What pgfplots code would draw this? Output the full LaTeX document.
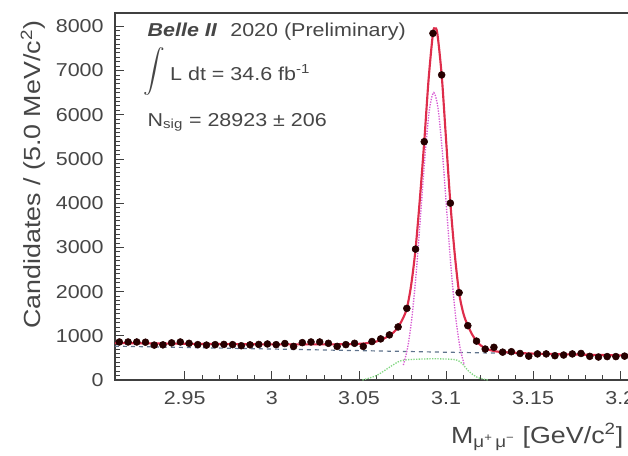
\documentclass[border=0pt]{standalone}
\usepackage{fontspec}
\setmainfont[FakeStretch=1.15]{Liberation Sans}
\usepackage{graphicx}
\usepackage{pgfplots}
\pgfplotsset{compat=1.18}
\definecolor{fitred}{RGB}{222,45,75}
\definecolor{sigmag}{RGB}{215,90,210}
\definecolor{bgblue}{RGB}{95,115,140}
\definecolor{sigtwo}{RGB}{130,215,130}
\definecolor{txt}{RGB}{70,70,70}
\pgfplotstableread{
x y
2.9125 860
2.9175 860
2.9225 860
2.9275 855
2.9325 790
2.9375 795
2.9425 840
2.9475 860
2.9525 830
2.9575 800
2.9625 790
2.9675 800
2.9725 805
2.9775 800
2.9825 775
2.9875 795
2.9925 805
2.9975 815
3.0025 800
3.0075 825
3.0125 760
3.0175 845
3.0225 860
3.0275 860
3.0325 830
3.0375 760
3.0425 800
3.0475 830
3.0525 760
3.0575 870
3.0625 930
3.0675 1020
3.0725 1200
3.0775 1620
3.0825 2960
3.0875 5390
3.0925 7840
3.0975 6900
3.1025 4000
3.1075 1975
3.1125 1230
3.1175 880
3.1225 700
3.1275 740
3.1325 630
3.1375 640
3.1425 600
3.1475 540
3.1525 590
3.1575 590
3.1625 550
3.1675 565
3.1725 590
3.1775 600
3.1825 535
3.1875 520
3.1925 530
3.1975 530
3.2025 540
3.2075 530
}\datatable
\pgfplotstableread{
x y
2.910 835
2.930 828
2.950 820
2.970 813
2.990 808
3.010 805
3.030 805
3.040 808
3.050 818
3.055 835
3.060 870
3.065 950
3.070 1080
3.0725 1200
3.075 1370
3.0775 1620
3.080 2150
3.0825 2960
3.085 4100
3.0875 5390
3.090 6800
3.0925 7840
3.0937 7950
3.095 7840
3.0975 6900
3.100 5450
3.1025 4000
3.105 2850
3.1075 1975
3.110 1500
3.1125 1230
3.115 1030
3.1175 880
3.120 780
3.1225 720
3.125 680
3.130 640
3.140 615
3.150 597
3.160 588
3.180 572
3.210 550
}\fittable
\pgfplotstableread{
x y
3.0755 338
3.078 741
3.0805 1439
3.083 2477
3.0855 3777
3.088 5106
3.0905 6120
3.093 6500
3.0955 6120
3.098 5106
3.1005 3777
3.103 2477
3.1055 1439
3.108 741
3.1105 338
}\coretable
\pgfplotstableread{
x y
3.052 0
3.060 100
3.068 300
3.073 420
3.078 460
3.093 480
3.105 460
3.109 380
3.113 200
3.118 60
3.124 0
}\widetable
\pgfplotstableread{
x y
2.91 765
3.21 550
}\bkgtable
\begin{document}
\begin{tikzpicture}
\path[use as bounding box] (0,0) rectangle (471pt,341.25pt);
\begin{axis}[
  at={(86.25pt,56.25pt)}, anchor=south west,
  scale only axis, width=392pt, height=275.25pt,
  xmin=2.91, xmax=3.21, ymin=0, ymax=8300,
  clip=false,
  axis line style={black!75, line width=0.8pt},
  xtick={2.95,3,3.05,3.1,3.15,3.2},
  xticklabels={2.95,3,3.05,3.1,3.15,3.2},
  ytick={0,1000,2000,3000,4000,5000,6000,7000,8000},
  yticklabels={0,1000,2000,3000,4000,5000,6000,7000,8000},
  minor x tick num=4, minor y tick num=9,
  tick align=inside, xtick pos=bottom, ytick pos=left,
  major tick length=7pt, minor tick length=3.5pt,
  tick style={black!75, line width=0.6pt},
  ticklabel style={font=\fontsize{14}{14}\selectfont, text=txt},
  xticklabel style={yshift=-5pt},
  yticklabel style={xshift=-5pt},
  xlabel={M\textsubscript{μ\textsuperscript{+}\,μ\textsuperscript{−}} [GeV/c\textsuperscript{2}]},
  xlabel style={at={(rel axis cs:0.9814,-0.1717)}, anchor=base east, font=\fontsize{17.5}{17.5}\selectfont, text=txt},
  ylabel={Candidates / (5.0 MeV/c\textsuperscript{2})},
  ylabel style={at={(rel axis cs:-0.157,0.559)}, anchor=center, font=\fontsize{17.5}{17.5}\selectfont, text=txt},
]
\addplot[sigtwo, densely dotted, line width=1pt, smooth] table[x=x,y=y] {\widetable};
\addplot[bgblue, dashed, line width=0.9pt] table[x=x,y=y] {\bkgtable};
\addplot[sigmag, densely dotted, line width=1pt, smooth] table[x=x,y=y] {\coretable};
\addplot[fitred, line width=1.6pt, smooth] table[x=x,y=y] {\fittable};
\addplot[only marks, mark=*, mark size=2.6pt, mark options={fill=black!85!red, draw=black!85!red}] table[x=x,y=y] {\datatable};
\node[anchor=base west, font=\fontsize{14}{14}\selectfont, text=txt] at (rel axis cs:0.0536,0.937) {\textbf{\textit{Belle II}}\hspace{0.7em}2020 (Preliminary)};
\node[anchor=base west, font=\fontsize{14}{14}\selectfont, text=txt, inner sep=0pt] at (rel axis cs:0.0536,0.817) {\raisebox{-11.25pt}[0pt][0pt]{\resizebox*{!}{36pt}{\raisebox{\depth}{$\displaystyle\int$}}}\hspace{4pt}L dt = 34.6 fb\textsuperscript{-1}};
\node[anchor=base west, font=\fontsize{14}{14}\selectfont, text=txt] at (rel axis cs:0.0536,0.692) {N\textsubscript{sig} = 28923 ± 206};
\end{axis}
\end{tikzpicture}
\end{document}
